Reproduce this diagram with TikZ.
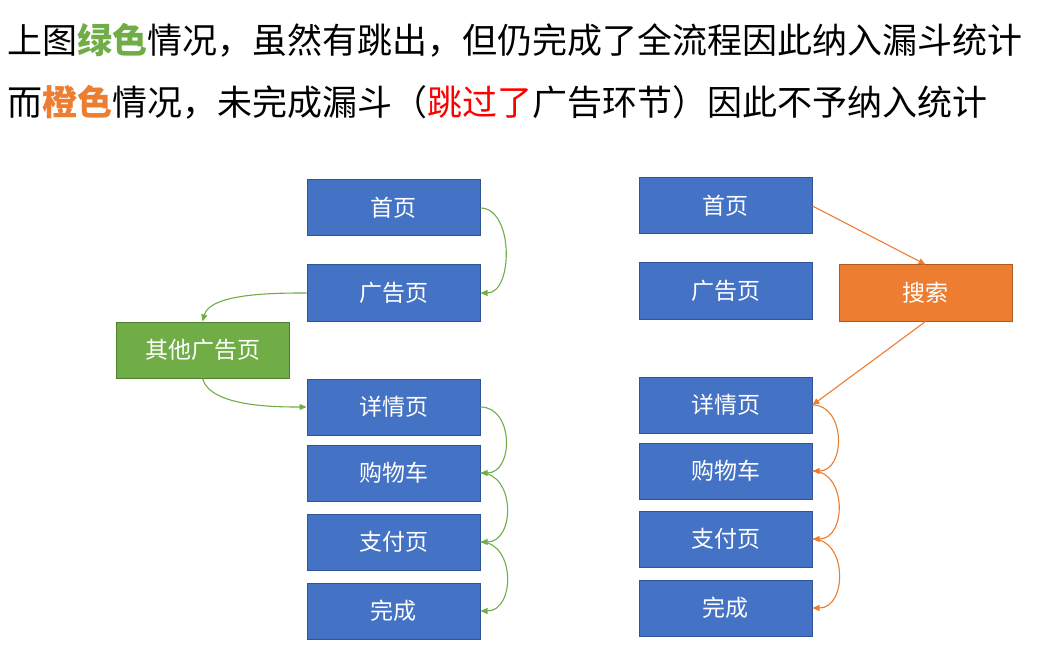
\documentclass[tikz,border=0pt]{standalone}
\usepackage{fontspec}
\newfontfamily\cjk{Noto Sans CJK SC}
\usetikzlibrary{arrows.meta}
\definecolor{boxblue}{HTML}{4472C4}
\definecolor{boxblueb}{HTML}{2F5597}
\definecolor{mygreen}{HTML}{70AD47}
\definecolor{mygreenb}{HTML}{507E32}
\definecolor{myorange}{HTML}{ED7D31}
\definecolor{myorangeb}{HTML}{AE5A21}
\definecolor{myred}{HTML}{FF0000}
\tikzset{
  pagebox/.style={draw=boxblueb, fill=boxblue, line width=1pt, minimum width=173pt, minimum height=56pt, inner sep=0pt, text=white, font=\cjk\fontsize{23}{27}\selectfont},
  greenbox/.style={pagebox, draw=mygreenb, fill=mygreen},
  orangebox/.style={pagebox, draw=myorangeb, fill=myorange},
  garrow/.style={draw=mygreen, line width=1.1pt, -{Triangle[length=7pt,width=6pt]}},
  oarrow/.style={draw=myorange, line width=1.1pt, -{Triangle[length=7pt,width=6pt]}},
  titletext/.style={anchor=west, inner sep=0pt, font=\cjk\fontsize{35}{40}\selectfont}
}
\begin{document}
\begin{tikzpicture}[x=1pt,y=1pt]
\useasboundingbox (0,0) rectangle (1049,-652);
\node[titletext] (t1) at (7,-40) {上图{\bfseries\color{mygreen}绿色}情况，虽然有跳出，但仍完成了全流程因此纳入漏斗统计};
\node[titletext] (t2) at (7,-102) {而{\bfseries\color{myorange}橙色}情况，未完成漏斗（{\color{myred}跳过了}广告环节）因此不予纳入统计};
% left column
\node[pagebox] (l1) at (393.5,-208) {首页};
\node[pagebox] (l2) at (393.5,-293) {广告页};
\node[greenbox] (lo) at (202.5,-350) {其他广告页};
\node[pagebox] (l3) at (393.5,-407) {详情页};
\node[pagebox] (l4) at (393.5,-473) {购物车};
\node[pagebox] (l5) at (393.5,-542) {支付页};
\node[pagebox] (l6) at (393.5,-611) {完成};
% right column
\node[pagebox] (r1) at (725.5,-206) {首页};
\node[pagebox] (r2) at (725.5,-291) {广告页};
\node[orangebox] (rs) at (925.5,-293) {搜索};
\node[pagebox] (r3) at (725.5,-405) {详情页};
\node[pagebox] (r4) at (725.5,-471) {购物车};
\node[pagebox] (r5) at (725.5,-539) {支付页};
\node[pagebox] (r6) at (725.5,-608) {完成};
% green arrows
\draw[garrow] (l1.east) to[out=0,in=0,looseness=1.0] (l2.east);
\draw[garrow] (l2.west) to[out=180,in=75,looseness=0.7] (lo.north);
\draw[garrow] (lo.south) to[out=-75,in=180,looseness=0.7] (l3.west);
\draw[garrow] (l3.east) to[out=0,in=0,looseness=1.3] (l4.east);
\draw[garrow] (l4.east) to[out=0,in=0,looseness=1.3] (l5.east);
\draw[garrow] (l5.east) to[out=0,in=0,looseness=1.3] (l6.east);
% orange arrows
\draw[oarrow] (r1.east) -- (rs.north);
\draw[oarrow] (rs.south) -- (r3.east);
\draw[oarrow] (r3.east) to[out=0,in=0,looseness=1.3] (r4.east);
\draw[oarrow] (r4.east) to[out=0,in=0,looseness=1.3] (r5.east);
\draw[oarrow] (r5.east) to[out=0,in=0,looseness=1.3] (r6.east);
\end{tikzpicture}
\end{document}
